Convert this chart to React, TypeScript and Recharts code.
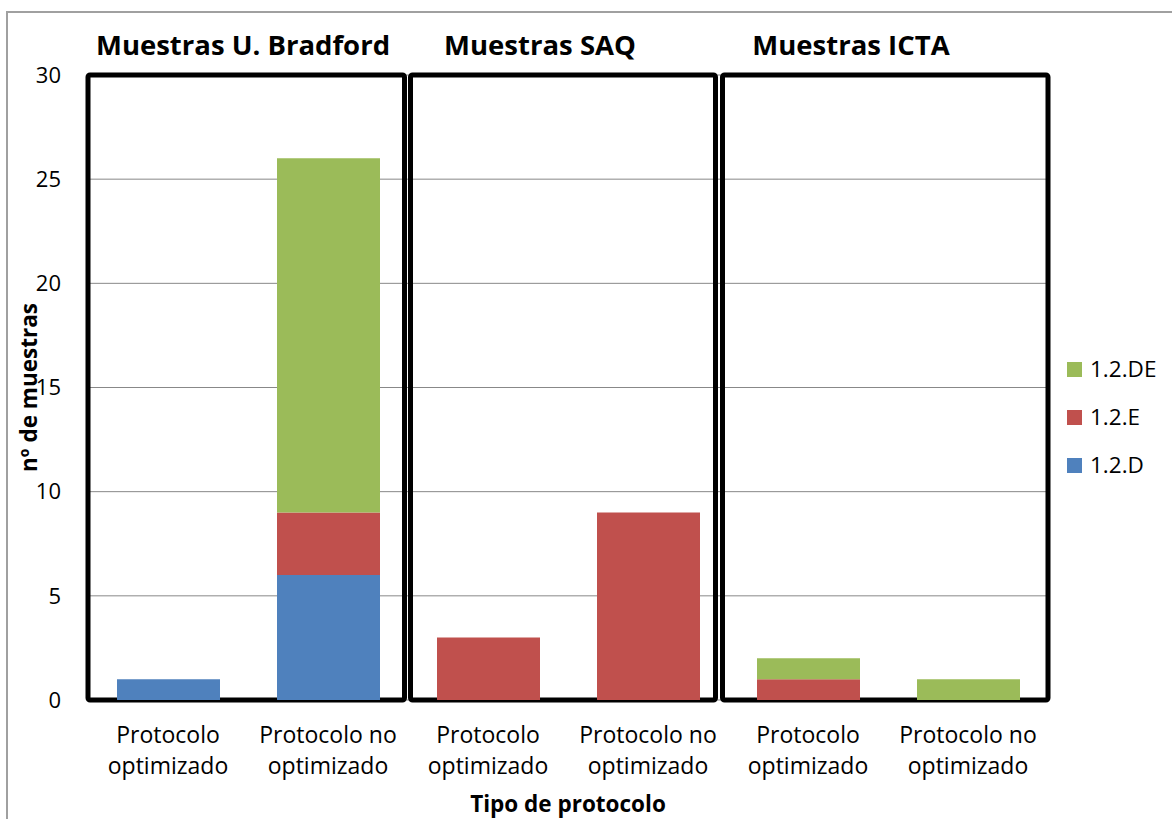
import React from 'react';
import { BarChart, Bar, XAxis, YAxis, CartesianGrid, ReferenceArea, Legend, Label } from 'recharts';

// ---- data ----
const categories = ['b1', 'b2', 's1', 's2', 'i1', 'i2'];
const tickLine1 = ['Protocolo', 'Protocolo no', 'Protocolo', 'Protocolo no', 'Protocolo', 'Protocolo no'];
const tickLine2 = ['optimizado', 'optimizado', 'optimizado', 'optimizado', 'optimizado', 'optimizado'];
const seriesD = [1, 6, 0, 0, 0, 0];
const seriesE = [0, 3, 3, 9, 1, 0];
const seriesDE = [0, 17, 0, 0, 1, 1];
const seriesNames = ['1.2.D', '1.2.E', '1.2.DE'];
const groupTitles = ['Muestras U. Bradford', 'Muestras SAQ', 'Muestras ICTA'];
const groupStart = ['b1', 's1', 'i1'];
const groupEnd = ['b2', 's2', 'i2'];
const yTicks = [0, 5, 10, 15, 20, 25, 30];
const yLabel = 'nº de muestras';
const xLabel = 'Tipo de protocolo';

// ---- style ----
const COLORS = ['#4F81BD', '#C0504D', '#9BBB59'];
const FONT = '"Open Sans", "Noto Sans", sans-serif';
// hand-drawn box insets (left, right) and title shifts
const boxInsets = [
  [0, 3.5],
  [2.5, 12.5],
  [-5.5, 0],
];
const titleShift = [-5, -28, -37];

const data = categories.map((c, i) => ({
  cat: c,
  d: seriesD[i],
  e: seriesE[i],
  de: seriesDE[i],
}));

const XTick = (props: any) => {
  const { x, y, payload } = props;
  const i = categories.indexOf(payload.value);
  return (
    <g>
      <text x={x} y={y + 43} textAnchor="middle" fontSize={23} fontFamily={FONT} fill="#000">
        {tickLine1[i]}
      </text>
      <text x={x} y={y + 74} textAnchor="middle" fontSize={23} fontFamily={FONT} fill="#000">
        {tickLine2[i]}
      </text>
    </g>
  );
};

const makeBoxShape = (gi: number) => (props: any) => {
  const { x, y, width, height } = props;
  const [l, r] = boxInsets[gi];
  return (
    <rect
      x={x + l}
      y={y}
      width={width - l - r}
      height={height}
      fill="none"
      stroke="#000"
      strokeWidth={5}
      rx={2}
    />
  );
};

const makeTitle = (gi: number) => (props: any) => {
  const vb = props.viewBox || {};
  const cx = vb.x + vb.width / 2 + titleShift[gi];
  return (
    <text x={cx} y={vb.y - 20} textAnchor="middle" fontSize={27.5} fontWeight="bold" fontFamily={FONT} fill="#000">
      {groupTitles[gi]}
    </text>
  );
};

const legendOrder = [2, 1, 0];

const LegendContent = () => (
  <div style={{ fontFamily: FONT, fontSize: 22.5, color: '#000' }}>
    {legendOrder.map((si) => (
      <div key={si} style={{ display: 'flex', alignItems: 'center', height: 48 }}>
        <div style={{ width: 15, height: 15, background: COLORS[si], marginRight: 8 }} />
        <span style={{ lineHeight: '26px' }}>{seriesNames[si]}</span>
      </div>
    ))}
  </div>
);

export default function App() {
  return (
    <div style={{ position: 'absolute', left: 0, top: 0, width: 1172, height: 819, overflow: 'hidden', background: '#fff' }}>
      <div
        style={{
          position: 'absolute',
          left: 6,
          top: 11,
          width: 1200,
          height: 900,
          border: '2px solid #a0a0a0',
        }}
      />
      <div style={{ position: 'absolute', left: 0, top: 0 }}>
        <BarChart
          width={1172}
          height={819}
          data={data}
          margin={{ top: 75, right: 124, bottom: 39, left: 28 }}
          barSize={103}
        >
          <CartesianGrid vertical={false} stroke="#888" strokeWidth={1} />
          <XAxis
            dataKey="cat"
            height={80}
            interval={0}
            tickLine={false}
            axisLine={false}
            tickSize={0}
            tickMargin={0}
            tick={<XTick />}
          >
            <Label
              content={(p: any) => {
                const vb = p.viewBox || {};
                return (
                  <text
                    x={vb.x + vb.width / 2}
                    y={vb.y + 112}
                    textAnchor="middle"
                    fontSize={22.5}
                    fontWeight="bold"
                    fontFamily={FONT}
                    fill="#000"
                  >
                    {xLabel}
                  </text>
                );
              }}
            />
          </XAxis>
          <YAxis
            width={60}
            domain={[0, 30]}
            ticks={yTicks}
            interval={0}
            tickLine={false}
            axisLine={false}
            tickSize={0}
            tickMargin={27}
            tick={{ fontSize: 22, fontFamily: FONT, fill: '#000' }}
          >
            <Label
              content={(p: any) => {
                const vb = p.viewBox || {};
                const cx = 37;
                const cy = vb.y + vb.height / 2;
                return (
                  <text
                    x={cx}
                    y={cy}
                    transform={`rotate(-90, ${cx}, ${cy})`}
                    textAnchor="middle"
                    fontSize={22.5}
                    fontWeight="bold"
                    fontFamily={FONT}
                    fill="#000"
                  >
                    {yLabel}
                  </text>
                );
              }}
            />
          </YAxis>
          <Legend
            layout="vertical"
            align="center"
            verticalAlign="middle"
            wrapperStyle={{ position: 'absolute', left: 1067, top: 345, width: 105 }}
            content={<LegendContent />}
          />
          <Bar dataKey="d" name={seriesNames[0]} stackId="a" fill={COLORS[0]} isAnimationActive={false} />
          <Bar dataKey="e" name={seriesNames[1]} stackId="a" fill={COLORS[1]} isAnimationActive={false} />
          <Bar dataKey="de" name={seriesNames[2]} stackId="a" fill={COLORS[2]} isAnimationActive={false} />
          {groupTitles.map((t, gi) => (
            <ReferenceArea
              key={t}
              x1={groupStart[gi]}
              x2={groupEnd[gi]}
              y1={0}
              y2={30}
              shape={makeBoxShape(gi)}
              label={makeTitle(gi)}
              ifOverflow="visible"
            />
          ))}
        </BarChart>
      </div>
    </div>
  );
}
